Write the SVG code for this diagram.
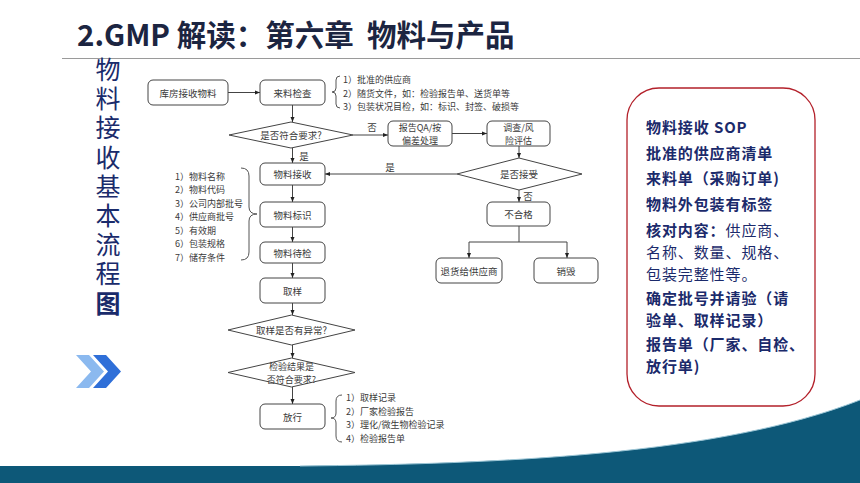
<svg xmlns="http://www.w3.org/2000/svg" width="860" height="483" viewBox="0 0 860 483">
<style>
.fc{font-family:"Noto Sans CJK SC","Liberation Sans",sans-serif;font-size:9.5px;fill:#3a3a3a;text-anchor:middle;dominant-baseline:central}
.f9{font-size:9px}
.fl{font-family:"Noto Sans CJK SC","Liberation Sans",sans-serif;font-size:9px;fill:#3a3a3a;dominant-baseline:central}
.bx{fill:#fff;stroke:#444;stroke-width:1}
.ln{fill:none;stroke:#444;stroke-width:1}
.br{fill:none;stroke:#555;stroke-width:1}
.rt{font-family:"Noto Sans CJK SC","Liberation Sans",sans-serif;font-size:15px;letter-spacing:0.9px;font-weight:bold;fill:#1b2a6b}
.rn{font-weight:normal}
</style>
<defs>
<marker id="ah" viewBox="0 0 10 10" refX="10" refY="5" markerWidth="5" markerHeight="5" orient="auto" markerUnits="userSpaceOnUse">
<path d="M0,1 L10,5 L0,9 Z" fill="#222"/>
</marker>
</defs>
<rect width="860" height="483" fill="#fff"/>

<g id="title">
<text x="77" y="46" xml:space="preserve" font-family="'Noto Sans CJK SC','Liberation Sans',sans-serif" font-size="29.5" font-weight="bold" fill="#1c2541">2.GMP 解读：第六章  物料与产品</text>
<line x1="62" y1="58.5" x2="860" y2="58.5" stroke="#9a9a9a" stroke-width="1.2"/>
</g>

<g id="vertical-title">
<text x="108" y="57" style="writing-mode:vertical-rl" font-family="'Noto Sans CJK SC',sans-serif" font-size="25" letter-spacing="4.2" fill="#1a2b6b">物料接收基本流程<tspan font-weight="bold">图</tspan></text>
</g>

<g id="chevrons">
<polygon points="76,355 89,355 104,371.5 89,388 76,388 91,371.5" fill="#8bb9ef"/>
<polygon points="93,355 106,355 121,371.5 106,388 93,388 108,371.5" fill="#2f6fd8"/>
</g>

<g id="bottom-band">
<path d="M0,466 L300,466 C500,464 720,455 860,400 L860,483 L0,483 Z" fill="#0d5878"/>
<path d="M300,466 C500,464 720,455 860,400" fill="none" stroke="#9cc6d6" stroke-width="1"/>
</g>

<g id="connectors">
<line class="ln" x1="228" y1="92.5" x2="260" y2="92.5" marker-end="url(#ah)"/>
<line class="ln" x1="292.5" y1="105" x2="292.5" y2="122" marker-end="url(#ah)"/>
<line class="ln" x1="353" y1="135" x2="388" y2="135" marker-end="url(#ah)"/>
<text class="fc" x="372" y="127">否</text>
<line class="ln" x1="452" y1="133.5" x2="487" y2="133.5" marker-end="url(#ah)"/>
<line class="ln" x1="519" y1="146" x2="519" y2="158" marker-end="url(#ah)"/>
<line class="ln" x1="457" y1="174" x2="325" y2="174" marker-end="url(#ah)"/>
<text class="fc" x="390" y="167">是</text>
<line class="ln" x1="292.5" y1="148" x2="292.5" y2="163" marker-end="url(#ah)"/>
<text class="fc" x="304" y="156">是</text>
<line class="ln" x1="292.5" y1="185" x2="292.5" y2="202" marker-end="url(#ah)"/>
<line class="ln" x1="292.5" y1="227" x2="292.5" y2="242" marker-end="url(#ah)"/>
<line class="ln" x1="292.5" y1="263" x2="292.5" y2="278" marker-end="url(#ah)"/>
<line class="ln" x1="292.5" y1="303" x2="292.5" y2="315" marker-end="url(#ah)"/>
<line class="ln" x1="292.5" y1="345" x2="292.5" y2="358" marker-end="url(#ah)"/>
<line class="ln" x1="292.5" y1="387" x2="292.5" y2="404" marker-end="url(#ah)"/>
<line class="ln" x1="519" y1="190" x2="519" y2="202" marker-end="url(#ah)"/>
<text class="fc" x="528" y="196">否</text>
<polyline class="ln" points="519,226 519,242"/>
<polyline class="ln" points="469,242 567,242"/>
<line class="ln" x1="469" y1="242" x2="469" y2="258" marker-end="url(#ah)"/>
<line class="ln" x1="567" y1="242" x2="567" y2="258" marker-end="url(#ah)"/>
</g>

<g id="n-warehouse"><rect class="bx" x="148" y="80" width="80" height="25" rx="5"/><text class="fc" x="188" y="92.5">库房接收物料</text></g>
<g id="n-incoming-check"><rect class="bx" x="260" y="80" width="65" height="25" rx="5"/><text class="fc" x="292.5" y="92.5">来料检查</text></g>
<g id="note-incoming">
<path class="br" d="M340,76 Q336,76 336,80 L336,88 Q336,92 332,92 Q336,92 336,96 L336,104 Q336,108 340,108"/>
<text class="fl" x="343" y="79.6">1）批准的供应商</text>
<text class="fl" x="343" y="93">2）随货文件，如：检验报告单、送货单等</text>
<text class="fl" x="343" y="106.4">3）包装状况目检，如：标识、封签、破损等</text>
</g>
<g id="d-meets-req"><polygon class="bx" points="229,135 291,122 353,135 291,148"/><text class="fc" x="291" y="135">是否符合要求?</text></g>
<g id="n-report-qa"><rect class="bx" x="388" y="121" width="64" height="25" rx="5"/><text class="fc f9" x="420" y="127">报告QA/按<tspan x="420" y="140.4">偏差处理</tspan></text></g>
<g id="n-investigate"><rect class="bx" x="487" y="121" width="63" height="25" rx="5"/><text class="fc f9" x="518.5" y="127">调查/风<tspan x="518.5" y="140.4">险评估</tspan></text></g>
<g id="d-accept"><polygon class="bx" points="457,174 519,158 582,174 519,190"/><text class="fc" x="519" y="174">是否接受</text></g>
<g id="n-receive"><rect class="bx" x="260" y="163" width="65" height="22" rx="5"/><text class="fc" x="292.5" y="174">物料接收</text></g>
<g id="n-label"><rect class="bx" x="260" y="202" width="65" height="25" rx="5"/><text class="fc" x="292.5" y="214.5">物料标识</text></g>
<g id="note-label">
<text class="fl" x="175" y="176">1）物料名称</text>
<text class="fl" x="175" y="189.5">2）物料代码</text>
<text class="fl" x="175" y="203">3）公司内部批号</text>
<text class="fl" x="175" y="216.5">4）供应商批号</text>
<text class="fl" x="175" y="230">5）有效期</text>
<text class="fl" x="175" y="243.5">6）包装规格</text>
<text class="fl" x="175" y="257">7）储存条件</text>
<path class="br" d="M241,168 Q249,168 249,176 L249,207 Q249,214 257,214 Q249,214 249,221 L249,252 Q249,260 241,260"/>
</g>
<g id="n-pending"><rect class="bx" x="260" y="242" width="65" height="21" rx="5"/><text class="fc" x="292.5" y="252.5">物料待检</text></g>
<g id="n-sample"><rect class="bx" x="260" y="278" width="65" height="25" rx="5"/><text class="fc" x="292.5" y="290.5">取样</text></g>
<g id="d-sample-abnormal"><polygon class="bx" points="228,330 291.5,315 355,330 291.5,345"/><text class="fc" x="291.5" y="330">取样是否有异常?</text></g>
<g id="d-result"><polygon class="bx" points="228,372.5 291.5,358 355,372.5 291.5,387"/><text class="fc f9" x="291.5" y="366">检验结果是<tspan x="291.5" y="379.3">否符合要求?</tspan></text></g>
<g id="n-release"><rect class="bx" x="260" y="404" width="65" height="25" rx="5"/><text class="fc" x="292.5" y="416.5">放行</text></g>
<g id="note-release">
<path class="br" d="M342,395 Q336,395 336,401 L336,413 Q336,418 331,418 Q336,418 336,423 L336,436 Q336,442 342,442"/>
<text class="fl" x="346" y="397">1）取样记录</text>
<text class="fl" x="346" y="411">2）厂家检验报告</text>
<text class="fl" x="346" y="424.5">3）理化/微生物检验记录</text>
<text class="fl" x="346" y="438">4）检验报告单</text>
</g>
<g id="n-reject"><rect class="bx" x="487" y="202" width="63" height="24" rx="5"/><text class="fc" x="518.5" y="214">不合格</text></g>
<g id="n-return"><rect class="bx" x="436" y="258" width="66" height="25" rx="5"/><text class="fc" x="469" y="270.5">退货给供应商</text></g>
<g id="n-destroy"><rect class="bx" x="534" y="258" width="64" height="25" rx="5"/><text class="fc" x="566" y="270.5">销毁</text></g>

<g id="key-points">
<rect x="627" y="88" width="188" height="318" rx="32" fill="#fff" stroke="#b3202a" stroke-width="1.3"/>
<text class="rt" x="646" y="133">物料接收 SOP</text>
<text class="rt" x="646" y="159">批准的供应商清单</text>
<text class="rt" x="646" y="184">来料单（采购订单)</text>
<text class="rt" x="646" y="210">物料外包装有标签</text>
<text class="rt" x="646" y="236">核对内容：<tspan class="rn">供应商、</tspan><tspan class="rn" x="646" y="258">名称、数量、规格、</tspan><tspan class="rn" x="646" y="280">包装完整性等。</tspan></text>
<text class="rt" x="646" y="304">确定批号并请验（请<tspan x="646" y="326">验单、取样记录）</tspan></text>
<text class="rt" x="646" y="350">报告单（厂家、自检、<tspan x="646" y="372">放行单)</tspan></text>
</g>
</svg>
